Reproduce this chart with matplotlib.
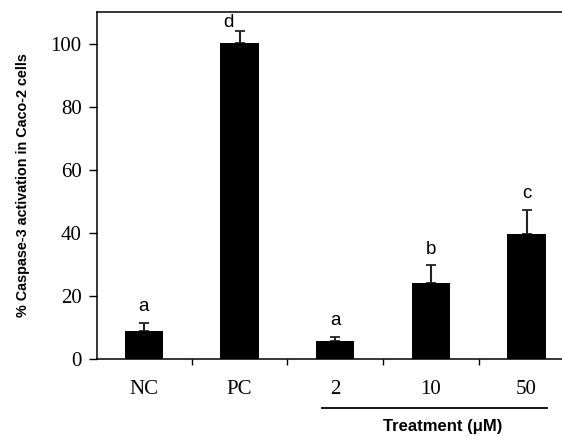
import numpy as np
import matplotlib
matplotlib.use('Agg')
import matplotlib.pyplot as plt
import matplotlib.transforms as mtransforms

categories = ['NC', 'PC', '2', '10', '50']
means = [8.7, 100.2, 5.7, 24.1, 39.5]
errors = [2.7, 3.8, 1.1, 5.5, 7.8]
letters = ['a', 'd', 'a', 'b', 'c']

fig = plt.figure(figsize=(5.62, 4.36), dpi=100)
ax = fig.add_axes([97 / 562, 77.3 / 436, 465 / 562, 346.7 / 436])

x = np.arange(len(categories))
ax.bar(x, means, width=0.4, color='black', zorder=2)
ax.errorbar(x, means, yerr=[np.zeros(len(means)), errors], fmt='none',
            ecolor='#222222', elinewidth=1.5, capsize=3.5, capthick=1.3, zorder=1)

for i, (m, e, lab) in enumerate(zip(means, errors, letters)):
    if lab == 'd':
        ax.text(i - 0.12, m + e + 2.6, lab, ha='center', va='center',
                fontsize=13.5, family='Liberation Sans')
    else:
        ax.text(i, m + e + 5.2, lab, ha='center', va='center',
                fontsize=13.5, family='Liberation Sans')

ax.set_xlim(-0.49, 4.37)
ax.set_ylim(0, 110)
ax.set_yticks([0, 20, 40, 60, 80, 100])
ax.set_xticks(x)
ax.set_xticklabels(categories)
ax.set_xticks([0.5, 1.5, 2.5, 3.5], minor=True)
ax.tick_params(axis='x', which='major', length=0, pad=15)
ax.tick_params(axis='x', which='minor', length=4, width=1, direction='out')
ax.tick_params(axis='y', length=6, width=1, direction='out', pad=5)
for lbl in ax.get_xticklabels() + ax.get_yticklabels():
    lbl.set_family('Liberation Serif')
    lbl.set_fontsize(15)

ax.spines['right'].set_visible(False)
for s in ['left', 'bottom', 'top']:
    ax.spines[s].set_linewidth(1.1)

ax.set_ylabel('% Caspase-3 activation in Caco-2 cells', fontsize=10.4,
              fontweight='bold', family='Liberation Sans')
ax.yaxis.set_label_coords(-0.145, 0.5)

# treatment bracket under the dose groups
trans = mtransforms.blended_transform_factory(ax.transData, fig.transFigure)
ax.plot([1.86, 4.21], [1 - 407.7 / 436] * 2, color='black', lw=1.3,
        transform=trans, clip_on=False)
ax.text(3.12, 1 - 426.7 / 436, 'Treatment (μM)', transform=trans,
        ha='center', va='center', fontsize=12, fontweight='bold',
        family='Liberation Sans')

plt.savefig('out.png', dpi=100)
